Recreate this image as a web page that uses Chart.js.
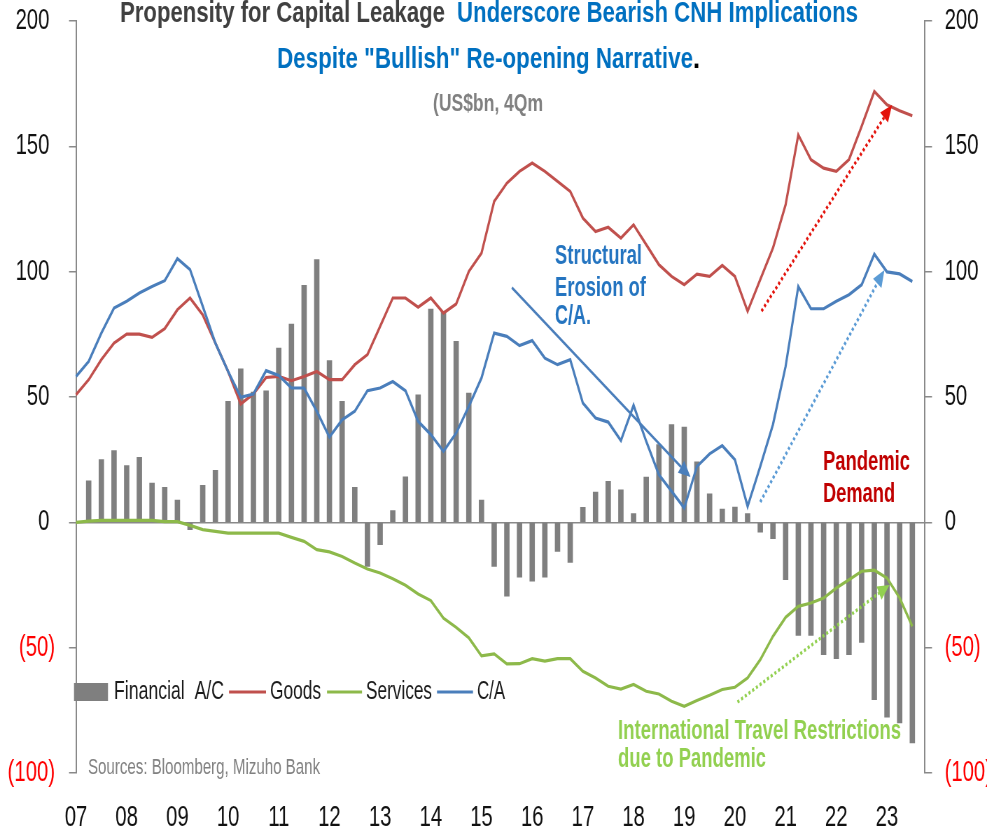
<!DOCTYPE html>
<html>
<head>
<meta charset="utf-8">
<title>Propensity for Capital Leakage</title>
<script src="https://cdn.jsdelivr.net/npm/chart.js@4.4.0/dist/chart.umd.min.js"></script>
<style>
  html, body { margin: 0; padding: 0; background: #ffffff; overflow: hidden; }
  /* the chart is laid out wide and squeezed horizontally, like the source image */
  #wrap { position: relative; width: 1410px; height: 830px; transform: scaleX(0.7); transform-origin: 0 0; }
</style>
</head>
<body>
<div id="wrap"><canvas id="leakageChart"></canvas></div>
<script>
// China BoP components, US$bn, 4-quarter sums (2007Q1 - 2023Q4)
const yearLabels = ["07", "08", "09", "10", "11", "12", "13", "14", "15", "16", "17", "18", "19", "20", "21", "22", "23"]
const quarterNames = ["Q1", "Q2", "Q3", "Q4"]

const financialAC = [
  null, 16.6, 25.0, 28.6,
  22.6, 25.9, 15.7, 14.0,
  8.9, -2.9, 14.8, 20.7,
  48.3, 61.2, 52.0, 52.5,
  69.5, 79.1, 94.5, 104.8,
  64.5, 48.3, 14.0, -17.6,
  -8.9, 4.7, 18.2, 50.9,
  85.1, 84.2, 72.2, 51.6,
  8.9, -17.6, -29.5, -21.9,
  -23.5, -21.9, -11.6, -16.0,
  6.0, 12.1, 16.4, 13.0,
  3.5, 18.1, 31.0, 39.0,
  38.0, 24.1, 11.4, 5.3,
  6.1, 3.5, -3.9, -6.5,
  -22.9, -45.1, -45.1, -52.8,
  -54.4, -52.8, -47.9, -70.7,
  -77.7, -80.0, -88.0, null,
]

const goods = [
  50.9, 56.9, 64.9, 71.5,
  75.1, 75.1, 73.8, 77.3,
  84.8, 89.5, 82.8, 71.5,
  60.2, 47.2, 51.2, 57.8,
  58.2, 56.5, 58.2, 60.2,
  56.9, 56.9, 62.9, 66.9,
  78.2, 89.5, 89.5, 85.8,
  89.5, 83.5, 87.1, 100.1,
  107.4, 128.0, 135.3, 140.0,
  143.3, 140.0, 136.0, 132.0,
  121.4, 116.0, 117.7, 113.4,
  118.7, 110.8, 102.8, 98.1,
  94.8, 99.0, 98.1, 102.5,
  98.1, 84.2, 96.9, 109.4,
  126.7, 154.6, 144.7, 141.3,
  140.0, 144.7, 158.0, 171.9,
  166.6, 164.2, 162.2, null,
]

const services = [
  0.0, 0.5, 0.8, 0.8,
  0.8, 0.8, 0.8, 0.3,
  0.3, -1.2, -2.9, -3.6,
  -4.3, -4.3, -4.3, -4.3,
  -4.3, -6.0, -7.6, -10.9,
  -11.8, -13.6, -16.2, -18.6,
  -20.2, -22.5, -25.1, -28.6,
  -31.2, -38.2, -41.9, -46.1,
  -53.3, -52.5, -56.5, -56.4,
  -54.4, -55.4, -54.4, -54.4,
  -59.4, -62.1, -65.4, -66.5,
  -64.7, -67.4, -68.5, -71.4,
  -73.4, -71.1, -69.0, -66.7,
  -65.8, -62.1, -54.8, -45.5,
  -37.9, -33.5, -32.2, -30.2,
  -26.2, -22.9, -19.5, -19.1,
  -22.2, -30.2, -41.5, null,
]

const currentAccount = [
  58.2, 64.2, 75.5, 85.5,
  88.2, 91.5, 94.1, 96.4,
  105.2, 100.8, 86.2, 71.5,
  60.2, 49.9, 51.2, 60.5,
  58.6, 53.6, 53.6, 44.3,
  34.0, 40.9, 44.3, 52.5,
  53.6, 56.2, 52.5, 40.3,
  35.0, 28.3, 35.6, 46.3,
  57.6, 75.5, 74.2, 70.5,
  72.5, 65.5, 62.9, 64.9,
  47.6, 41.6, 40.0, 32.6,
  46.7, 32.3, 19.0, 12.4,
  5.7, 22.3, 27.3, 30.6,
  25.0, 6.4, 22.3, 39.0,
  62.2, 94.1, 85.2, 85.2,
  88.2, 90.8, 94.8, 107.0,
  99.9, 99.1, 96.1, null,
]

const yMin = -100
const yMax = 200
const yStep = 50

const quarterLabels = yearLabels.flatMap((y) => quarterNames.map((q) => `${y}${q}`))

const SX = 0.7 // horizontal squeeze applied by the CSS transform
const axisGray = "#898989"
const textFamily = "'Liberation Sans', Arial, sans-serif"
const tickFont = { family: textFamily, size: 29 }

// arrows given as [quarter index, value]
const arrows = [
  { from: [34.4, 93.6], to: [48.5, 18.1], color: "#4A7EBB", width: 2.8, dash: [] },
  { from: [54.1, 84.3], to: [64.4, 166.5], color: "#E3120B", width: 3.4, dash: [3, 3] },
  { from: [54.0, 8.1], to: [63.8, 100.7], color: "#5B9BD5", width: 3.4, dash: [3, 3] },
  { from: [52.2, -71.7], to: [64.2, -25.0], color: "#92D050", width: 3.4, dash: [3, 3] },
]

function fitText(ctx, str, left, midY, width, font, color) {
  ctx.save()
  ctx.font = font
  ctx.fillStyle = color
  ctx.textAlign = "left"
  ctx.textBaseline = "middle"
  const natural = ctx.measureText(str).width
  ctx.translate(left, midY)
  ctx.scale(width / natural, 1)
  ctx.fillText(str, 0, 0)
  ctx.restore()
}

function drawArrow(ctx, x0, y0, x1, y1, color, width, dash) {
  const ang = Math.atan2(y1 - y0, x1 - x0)
  const headLen = 17
  const headHalf = 7.5
  const bx = x1 - Math.cos(ang) * headLen
  const by = y1 - Math.sin(ang) * headLen
  ctx.save()
  ctx.strokeStyle = color
  ctx.fillStyle = color
  ctx.lineWidth = width
  ctx.setLineDash(dash)
  ctx.beginPath()
  ctx.moveTo(x0, y0)
  ctx.lineTo(bx, by)
  ctx.stroke()
  ctx.setLineDash([])
  ctx.beginPath()
  ctx.moveTo(x1, y1)
  ctx.lineTo(bx + Math.sin(ang) * headHalf, by - Math.cos(ang) * headHalf)
  ctx.lineTo(bx - Math.sin(ang) * headHalf, by + Math.cos(ang) * headHalf)
  ctx.closePath()
  ctx.fill()
  ctx.restore()
}

const annotations = {
  id: "leakageAnnotations",
  afterDatasetsDraw(chart) {
    const { ctx, scales } = chart
    arrows.forEach((a) => {
      drawArrow(
        ctx,
        scales.x.getPixelForValue(a.from[0]), scales.y.getPixelForValue(a.from[1]),
        scales.x.getPixelForValue(a.to[0]), scales.y.getPixelForValue(a.to[1]),
        a.color, a.width, a.dash,
      )
    })
  },
  afterDraw(chart) {
    const ctx = chart.ctx
    ctx.save()
    // text below is placed in on-screen pixels
    ctx.scale(1 / SX, 1)
    const bold29 = `bold 29px ${textFamily}`

    // title
    fitText(ctx, "Propensity for Capital Leakage", 120, 14, 325, bold29, "#404040")
    fitText(ctx, "Underscore Bearish CNH Implications", 457, 14, 401, bold29, "#0070C0")
    fitText(ctx, "Despite \"Bullish\" Re-opening Narrative", 277, 60, 416, bold29, "#0070C0")
    fitText(ctx, ".", 693, 60, 7, bold29, "#000000")
    fitText(ctx, "(US$bn, 4Qm", 433, 105, 110, `bold 23px ${textFamily}`, "#808080")

    // call-outs
    const b27 = `bold 27px ${textFamily}`
    fitText(ctx, "Structural", 555, 257, 87, b27, "#2474C0")
    fitText(ctx, "Erosion of", 555, 289, 91, b27, "#2474C0")
    fitText(ctx, "C/A.", 555, 317, 36, b27, "#2474C0")
    fitText(ctx, "Pandemic", 823, 463, 87, b27, "#C00000")
    fitText(ctx, "Demand", 823, 495, 72, b27, "#C00000")
    fitText(ctx, "International Travel Restrictions", 618, 732, 283, b27, "#92D050")
    fitText(ctx, "due to Pandemic", 618, 760, 148, b27, "#92D050")
    fitText(ctx, "Sources: Bloomberg, Mizuho Bank", 88, 768, 232, `22px ${textFamily}`, "#808080")

    // legend
    const ds = chart.data.datasets
    const f26 = `26px ${textFamily}`
    ctx.fillStyle = ds[0].backgroundColor
    ctx.fillRect(74, 683, 34, 18)
    fitText(ctx, ds[0].label, 114, 692, 110, f26, "#1A1A1A")
    const lineItems = [
      { ds: ds[1], x0: 229, x1: 266, tx: 270, tw: 51 },
      { ds: ds[2], x0: 327, x1: 362, tx: 366, tw: 66 },
      { ds: ds[3], x0: 437, x1: 473, tx: 477, tw: 28 },
    ]
    lineItems.forEach((it) => {
      ctx.strokeStyle = it.ds.borderColor
      ctx.lineWidth = 3
      ctx.beginPath()
      ctx.moveTo(it.x0, 692)
      ctx.lineTo(it.x1, 692)
      ctx.stroke()
      fitText(ctx, it.ds.label, it.tx, 692, it.tw, f26, "#1A1A1A")
    })
    ctx.restore()
  },
}

// accounting style: negatives in brackets, positives keep a trailing gap
const yTickFormat = (v) => (v < 0 ? `(${-v})` : `${v} `)
const yTickColor = (c) => (c.tick && c.tick.value < 0 ? "#FF0000" : "#111111")
const noLabelOverhang = (scale) => {
  scale.paddingTop = 0
  scale.paddingBottom = 0
}

const ctx = document.getElementById("leakageChart").getContext("2d")
const chart = new Chart(ctx, {
  type: "bar",
  data: {
    labels: quarterLabels,
    datasets: [
      {
        type: "bar",
        label: "Financial  A/C",
        data: financialAC,
        backgroundColor: "#7F7F7F",
        barThickness: 7,
        order: 4,
      },
      {
        type: "line",
        label: "Goods",
        data: goods,
        borderColor: "#C0504D",
        borderWidth: 3.2,
        pointRadius: 0,
        tension: 0,
        order: 3,
      },
      {
        type: "line",
        label: "Services",
        data: services,
        borderColor: "#8DB94A",
        borderWidth: 3.2,
        pointRadius: 0,
        tension: 0,
        order: 2,
      },
      {
        type: "line",
        label: "C/A",
        data: currentAccount,
        borderColor: "#4A7EBB",
        borderWidth: 3.2,
        pointRadius: 0,
        tension: 0,
        order: 1,
      },
    ],
  },
  options: {
    responsive: true,
    maintainAspectRatio: false,
    animation: false,
    layout: { padding: { top: 21, left: 0, right: 0, bottom: 0 } },
    plugins: {
      legend: { display: false },
      title: { display: false },
      tooltip: { enabled: false },
    },
    scales: {
      x: {
        type: "category",
        offset: false,
        grid: { display: false, drawTicks: false },
        border: { display: false },
        ticks: {
          autoSkip: false,
          maxRotation: 0,
          padding: 28,
          color: "#111111",
          font: tickFont,
          callback: (val, idx) => (idx % 4 === 0 ? yearLabels[idx / 4] : ""),
        },
        afterFit: (scale) => { scale.height = 57 },
      },
      y: {
        position: "left",
        min: yMin,
        max: yMax,
        ticks: { stepSize: yStep, padding: 20, font: tickFont, color: yTickColor, callback: yTickFormat },
        grid: {
          color: (c) => (c.tick && c.tick.value === 0 ? axisGray : "rgba(0,0,0,0)"),
          lineWidth: 1.5,
          tickColor: axisGray,
          tickLength: 10,
        },
        border: { color: axisGray, width: 2 },
        afterFit: (scale) => {
          scale.width = 76 / SX
          noLabelOverhang(scale)
        },
      },
      y1: {
        position: "right",
        min: yMin,
        max: yMax,
        ticks: { stepSize: yStep, padding: 18, font: tickFont, color: yTickColor, callback: yTickFormat },
        grid: { drawOnChartArea: false, tickColor: axisGray, tickLength: 10, lineWidth: 1.5 },
        border: { color: axisGray, width: 2 },
        afterFit: (scale) => {
          scale.width = 62 / SX
          noLabelOverhang(scale)
        },
      },
    },
  },
  plugins: [annotations],
})
</script>
</body>
</html>
